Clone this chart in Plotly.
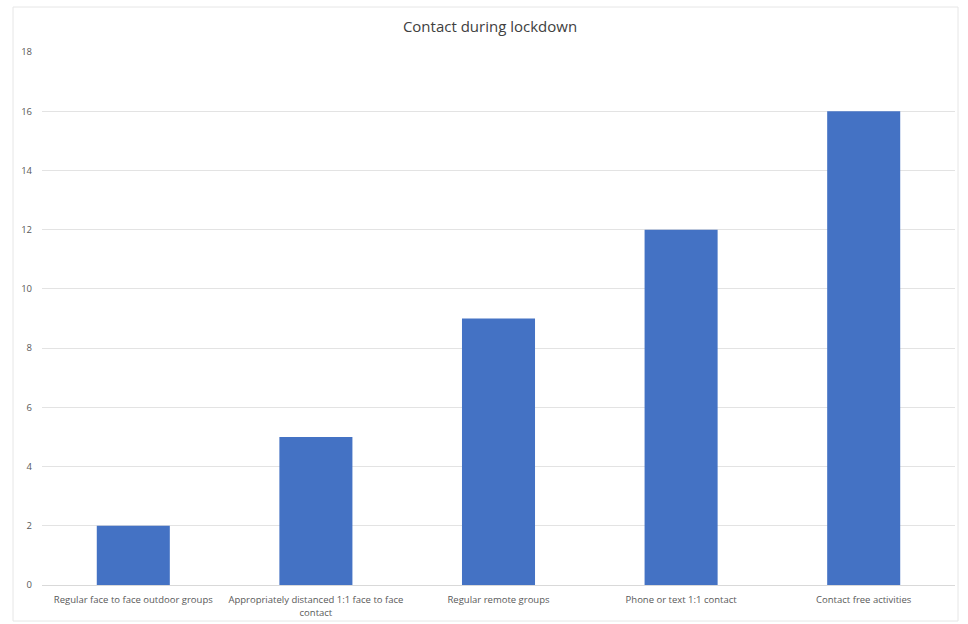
import plotly.graph_objects as go

categories = [
    "Regular face to face outdoor groups",
    "Appropriately distanced 1:1 face to face<br>contact",
    "Regular remote groups",
    "Phone or text 1:1 contact",
    "Contact free activities",
]
counts = [2, 5, 9, 12, 16]
y_ticks = [0, 2, 4, 6, 8, 10, 12, 14, 16, 18]

W, H = 968, 624
ml, mr, mt, mb = 42, 13, 52, 39
pw, ph = W - ml - mr, H - mt - mb

def px_x(p):
    return (p - ml) / pw

def px_y(p):
    return (H - mb - p) / ph

fig = go.Figure(
    go.Bar(
        x=categories,
        y=counts,
        marker=dict(color="#4472C4", line=dict(width=0)),
        hoverinfo="x+y",
    )
)

fig.update_layout(
    width=W,
    height=H,
    margin=dict(l=ml, r=mr, t=mt, b=mb, autoexpand=False),
    paper_bgcolor="white",
    plot_bgcolor="white",
    bargap=0.6,
    showlegend=False,
    font=dict(family="Open Sans, Lato, sans-serif", color="#595959", size=10),
    title=dict(
        text="Contact during lockdown",
        x=px_x(490),
        xref="paper",
        xanchor="center",
        y=1 - 27 / H,
        yref="container",
        yanchor="middle",
        font=dict(size=15, color="#404040", family="Open Sans, Lato, sans-serif"),
    ),
    xaxis=dict(
        showgrid=False,
        showline=True,
        linecolor="#d9d9d9",
        linewidth=1,
        ticks="",
        automargin=False,
        ticklabelstandoff=6,
        tickfont=dict(size=9.5, color="#595959"),
        fixedrange=True,
    ),
    yaxis=dict(
        range=[0, 18],
        tickvals=y_ticks,
        showgrid=True,
        gridcolor="#e3e3e3",
        gridwidth=1,
        zeroline=False,
        showline=False,
        ticks="",
        automargin=False,
        ticklabelstandoff=9,
        tickfont=dict(size=9.5, color="#595959"),
        fixedrange=True,
    ),
    shapes=[
        dict(
            type="rect",
            xref="paper",
            yref="paper",
            x0=px_x(13),
            x1=px_x(958),
            y0=px_y(621),
            y1=px_y(7),
            line=dict(color="#e6e6e6", width=1),
            fillcolor="rgba(0,0,0,0)",
            layer="below",
        )
    ],
)

fig.write_html("out.html")
